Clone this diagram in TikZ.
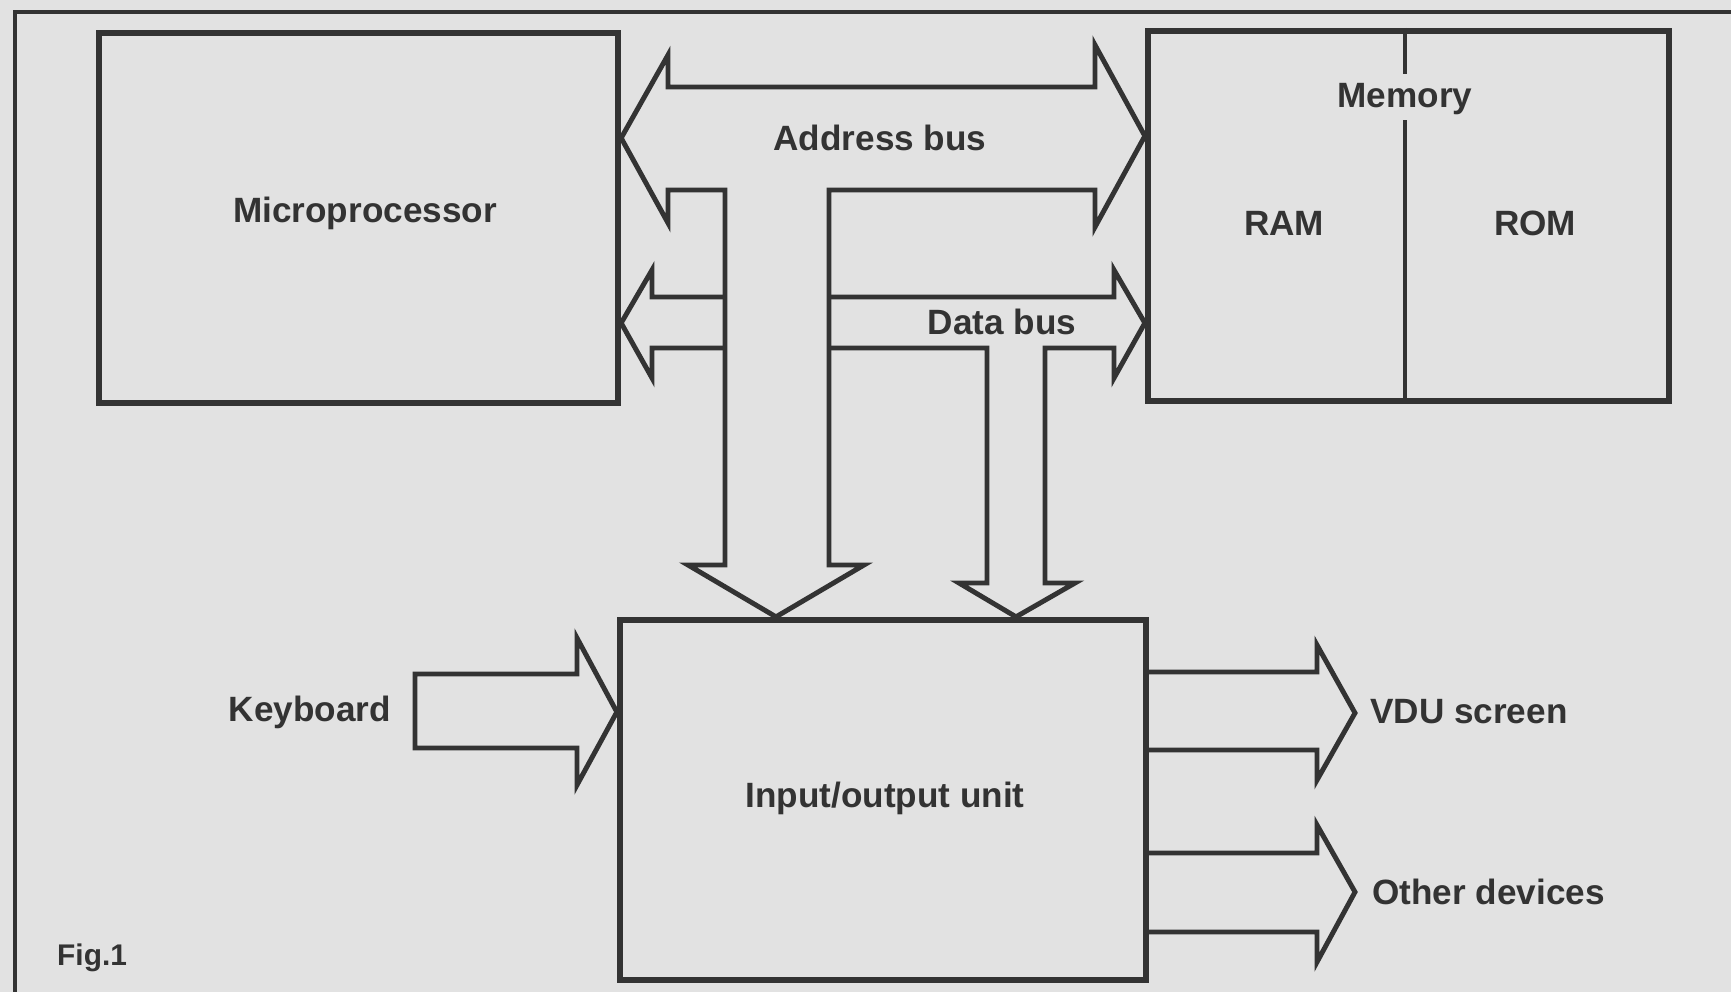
\documentclass[tikz,border=0pt]{standalone}
\usepackage{fontspec}
\setmainfont{Liberation Sans}
\definecolor{ink}{HTML}{333333}
\definecolor{paper}{HTML}{E2E2E2}
\begin{document}
\begin{tikzpicture}[x=0.1mm,y=-0.1mm,
  box/.style={draw=ink, line width=1.8pt, inner sep=0pt},
  bus/.style={draw=ink, line width=1.4pt, line join=miter},
  lbl/.style={text=ink, font=\fontsize{10}{12}\selectfont\bfseries, inner sep=1pt}]
  % page
  \fill[paper] (0,0) rectangle (1731,992);
  \useasboundingbox (0,0) rectangle (1731,992);
  \draw[ink, line width=1.2pt] (1731,12) -- (15,12) -- (15,992);

  % main units
  \node[box, minimum width=51.9mm, minimum height=37mm] (mp) at (358.5,218) {};
  \node[lbl] (mplbl) at (365,213) {Microprocessor};
  \node[box, minimum width=52.1mm, minimum height=37mm] (mem) at (1408.5,216) {};
  \node[box, minimum width=52.6mm, minimum height=36mm] (io) at (883,800) {};
  \node[lbl] (iolbl) at (885,798) {Input/output unit};

  % memory split into RAM and ROM
  \node[lbl] (memlbl) at (1405,99) {Memory};
  \node[lbl] (ram) at (1284,223) {RAM};
  \node[lbl] (rom) at (1535,223) {ROM};
  \draw[ink, line width=1.4pt] (mem.north -| memlbl) -- (1405,74);
  \draw[ink, line width=1.4pt] (1405,120) -- (mem.south -| memlbl);

  % address bus: double-headed arrow with a stem down to the I/O unit
  \draw[bus] (mp.east |- 0,138) -- (668,55) -- (668,87) -- (1095,87) -- (1095,45)
    -- (mem.west |- 0,136) -- (1095,227) -- (1095,190) -- (829,190) -- (829,565)
    -- (864,565) -- (io.north -| 776,0) -- (688,565) -- (725,565) -- (725,190)
    -- (668,190) -- (668,223) -- cycle;
  \node[lbl] (abus) at (880,138) {Address bus};

  % data bus: branch to the microprocessor
  \draw[bus] (725,297) -- (652,297) -- (652,270) -- (mp.east |- 0,323)
    -- (652,378) -- (652,348) -- (725,348);
  % data bus: branch to memory and down to the I/O unit
  \draw[bus] (829,297) -- (1114,297) -- (1114,270) -- (mem.west |- 0,323)
    -- (1114,378) -- (1114,348) -- (1045,348) -- (1045,583) -- (1075,583)
    -- (io.north -| 1016,0) -- (959,583) -- (987,583) -- (987,348) -- (829,348);
  \node[lbl] (dbus) at (1002,322) {Data bus};

  % peripherals
  \node[lbl, anchor=east] (kbd) at (395,712) {Keyboard};
  \draw[bus] (415,674) -- (577,674) -- (577,638) -- (io.west |- 0,712)
    -- (577,785) -- (577,748) -- (415,748) -- cycle;

  \node[lbl, anchor=west] (vdu) at (1366,712) {VDU screen};
  \draw[bus] (io.east |- 0,672) -- (1317,672) -- (1317,645) -- (1355,713)
    -- (1317,780) -- (1317,750) -- (io.east |- 0,750);

  \node[lbl, anchor=west] (oth) at (1368,892) {Other devices};
  \draw[bus] (io.east |- 0,853) -- (1317,853) -- (1317,825) -- (1355,892)
    -- (1317,962) -- (1317,932) -- (io.east |- 0,932);

  \node[lbl, anchor=west, font=\fontsize{8.5}{10}\selectfont\bfseries] (fig) at (53,958) {Fig.1};
\end{tikzpicture}
\end{document}
